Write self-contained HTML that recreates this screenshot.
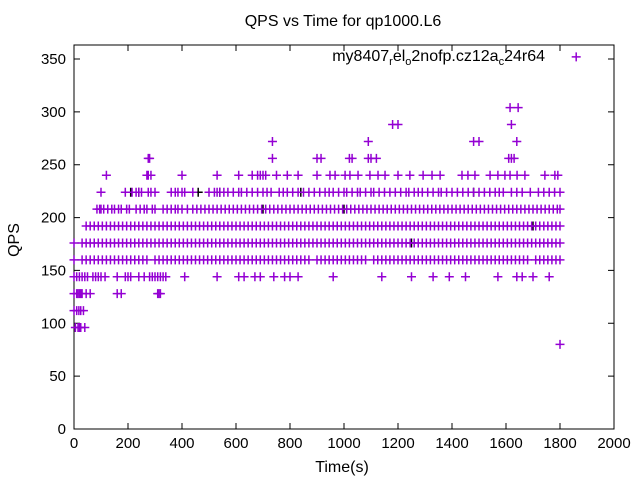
<!DOCTYPE html>
<html><head><meta charset="utf-8"><style>
body{margin:0;background:#fff;}
svg{display:block;font-family:"Liberation Sans",sans-serif;}
</style></head><body>
<svg id="chart" width="640" height="480">
<text x="343" y="26" text-anchor="middle" font-size="16">QPS vs Time for qp1000.L6</text>
<text x="342" y="472" text-anchor="middle" font-size="16">Time(s)</text>
<text x="19" y="240" text-anchor="middle" font-size="16" transform="rotate(-90 19 240)">QPS</text>
<g id="axes"></g>
<g id="marks"></g>
<text x="545" y="61" text-anchor="end" font-size="16">my8407<tspan font-size="11" dy="4">r</tspan><tspan dy="-4">el</tspan><tspan font-size="11" dy="4">o</tspan><tspan dy="-4">2nofp.cz12a</tspan><tspan font-size="11" dy="4">c</tspan><tspan dy="-4">24r64</tspan></text>
</svg>
<script>
const xTicks=[0,200,400,600,800,1000,1200,1400,1600,1800,2000];
const yTicks=[0,50,100,150,200,250,300,350];
const L96=[5,15,20,25,40];
const L112=[0,10,18,25,35];
const L128=[0,10,15,20,25,30,45,60,160,175,310,315,320];
const L144=[0,10,20,30,40,50,70,80,90,100,115,160,190,200,210,240,260,280,290,300,310,320,330,340,410,530,610,630,670,690,740,780,800,830,960,1140,1250,1330,1390,1450,1570,1640,1660,1700,1760];
const L160=[0,30,45,60,75,90,105,120,135,150,165,180,195,210,225,240,255,270,300,315,330,345,360,375,390,405,420,435,450,465,480,495,510,525,540,555,570,585,600,615,630,645,660,675,690,705,720,735,750,765,780,795,810,825,840,855,870,900,915,930,945,960,975,990,1005,1020,1035,1050,1065,1080,1110,1125,1140,1155,1170,1185,1200,1215,1230,1245,1260,1275,1290,1305,1320,1335,1350,1365,1380,1395,1410,1425,1440,1455,1470,1485,1500,1515,1530,1545,1560,1575,1590,1605,1620,1635,1650,1665,1680,1710,1725,1740,1755,1770,1785,1800];
const L176=[0,30,45,60,75,90,105,120,135,150,165,180,195,210,225,240,255,270,285,300,315,330,345,360,375,390,405,420,435,450,465,480,495,510,525,540,555,570,585,600,615,630,645,660,675,690,705,720,735,750,765,780,795,810,825,840,855,870,885,900,915,930,945,960,975,990,1005,1020,1035,1050,1065,1080,1095,1110,1125,1140,1155,1170,1185,1200,1215,1230,1245,1260,1275,1290,1305,1320,1335,1350,1365,1380,1395,1410,1425,1440,1455,1470,1485,1500,1515,1530,1545,1560,1575,1590,1605,1620,1635,1650,1665,1680,1695,1710,1725,1740,1755,1770,1785,1800];
const L192=[45,60,75,90,105,120,135,150,165,180,195,210,225,240,255,270,285,300,315,330,345,360,375,390,405,420,435,450,465,480,495,510,525,540,555,570,585,600,615,630,645,660,675,690,705,720,735,750,765,780,795,810,825,840,855,870,885,900,915,930,945,960,975,990,1005,1020,1035,1050,1065,1080,1095,1110,1125,1140,1155,1170,1185,1200,1215,1230,1245,1260,1275,1290,1305,1320,1335,1350,1365,1380,1395,1410,1425,1440,1455,1470,1485,1500,1515,1530,1545,1560,1575,1590,1605,1620,1635,1650,1665,1680,1695,1710,1725,1740,1755,1770,1785,1800];
const L208=[85,95,100,110,125,140,150,165,175,195,205,230,245,260,270,290,300,330,345,360,375,385,400,420,440,455,470,485,500,515,530,545,560,575,590,605,620,635,650,665,680,695,710,725,740,755,770,785,800,815,830,845,860,875,890,905,920,935,950,965,980,995,1010,1025,1040,1055,1070,1085,1100,1115,1130,1145,1160,1175,1190,1205,1220,1235,1250,1265,1280,1295,1310,1325,1340,1355,1370,1385,1400,1415,1430,1445,1460,1475,1490,1505,1520,1535,1550,1565,1580,1595,1610,1625,1640,1655,1670,1685,1700,1715,1730,1745,1760,1775,1790,1800];
const L224=[100,190,215,230,240,250,275,285,300,360,375,385,400,410,440,500,520,530,540,555,570,590,610,620,640,660,680,700,715,730,760,775,790,810,830,850,870,890,910,930,945,960,980,1000,1010,1030,1050,1060,1080,1100,1110,1130,1150,1170,1190,1210,1230,1240,1260,1275,1290,1310,1330,1350,1360,1380,1400,1420,1440,1460,1480,1500,1520,1540,1560,1575,1590,1620,1640,1660,1690,1720,1740,1760,1780,1800];
const L240=[120,270,275,285,400,530,610,660,680,690,700,710,750,790,830,900,948,967,1004,1022,1052,1096,1126,1152,1200,1244,1293,1326,1356,1437,1459,1485,1541,1570,1596,1615,1641,1670,1744,1781,1792];
const L256=[275,280,735,900,915,1020,1030,1090,1100,1120,1610,1620,1630];
const L272=[735,1090,1480,1500,1640];
const L288=[1180,1200,1620];
const L304=[1615,1645];
const L352=[1860];
const L80=[1800];
const blackT=[210,240,460,540,700,840,1000,1250,1480,1700];
const blackQ=[224,224,224,224,208,224,208,176,224,192];
const levels=[96,112,128,144,160,176,192,208,224,240,256,272,288,304,352,80];
const series=[L96,L112,L128,L144,L160,L176,L192,L208,L224,L240,L256,L272,L288,L304,L352,L80];

const X0=74,X1=614,Y0=429,YT=45;
const sx=t=>X0+t*(X1-X0)/2000;
const sy=v=>Y0-v*(370/350);
const NS="http://www.w3.org/2000/svg";
const axes=document.getElementById('axes'),marks=document.getElementById('marks');
function mk(tag,attrs,parent){const e=document.createElementNS(NS,tag);for(const k in attrs)e.setAttribute(k,attrs[k]);parent.appendChild(e);return e;}
const box=mk('rect',{x:X0,y:YT,width:X1-X0,height:Y0-YT,fill:'none',stroke:'#000','stroke-width':1},axes);


xTicks.forEach(t=>{const x=sx(t);
 mk('path',{d:`M${x} ${Y0}v-6M${x} ${YT}v6`,stroke:'#000'},axes);
 const l=mk('text',{x:x,y:Y0+19,'text-anchor':'middle','font-size':15},axes);l.textContent=t;
 
 
});
yTicks.forEach(v=>{const y=sy(v);
 mk('path',{d:`M${X0} ${y}h6M${X1} ${y}h-6`,stroke:'#000'},axes);
 const l=mk('text',{x:X0-8,y:y+5,'text-anchor':'end','font-size':15},axes);l.textContent=v;
 
 
});
function plus(x,y,c){const p=mk('path',{d:`M${x-4.5} ${y}h9M${x} ${y-4.5}v9`,stroke:c,'stroke-width':1.5},marks);
 
 }
blackT.forEach((t,i)=>plus(sx(t),sy(blackQ[i]),'#000'));
series.forEach((arr,i)=>arr.forEach(t=>plus(sx(t),sy(levels[i]),'#9400d3')));
</script>
</body></html>
